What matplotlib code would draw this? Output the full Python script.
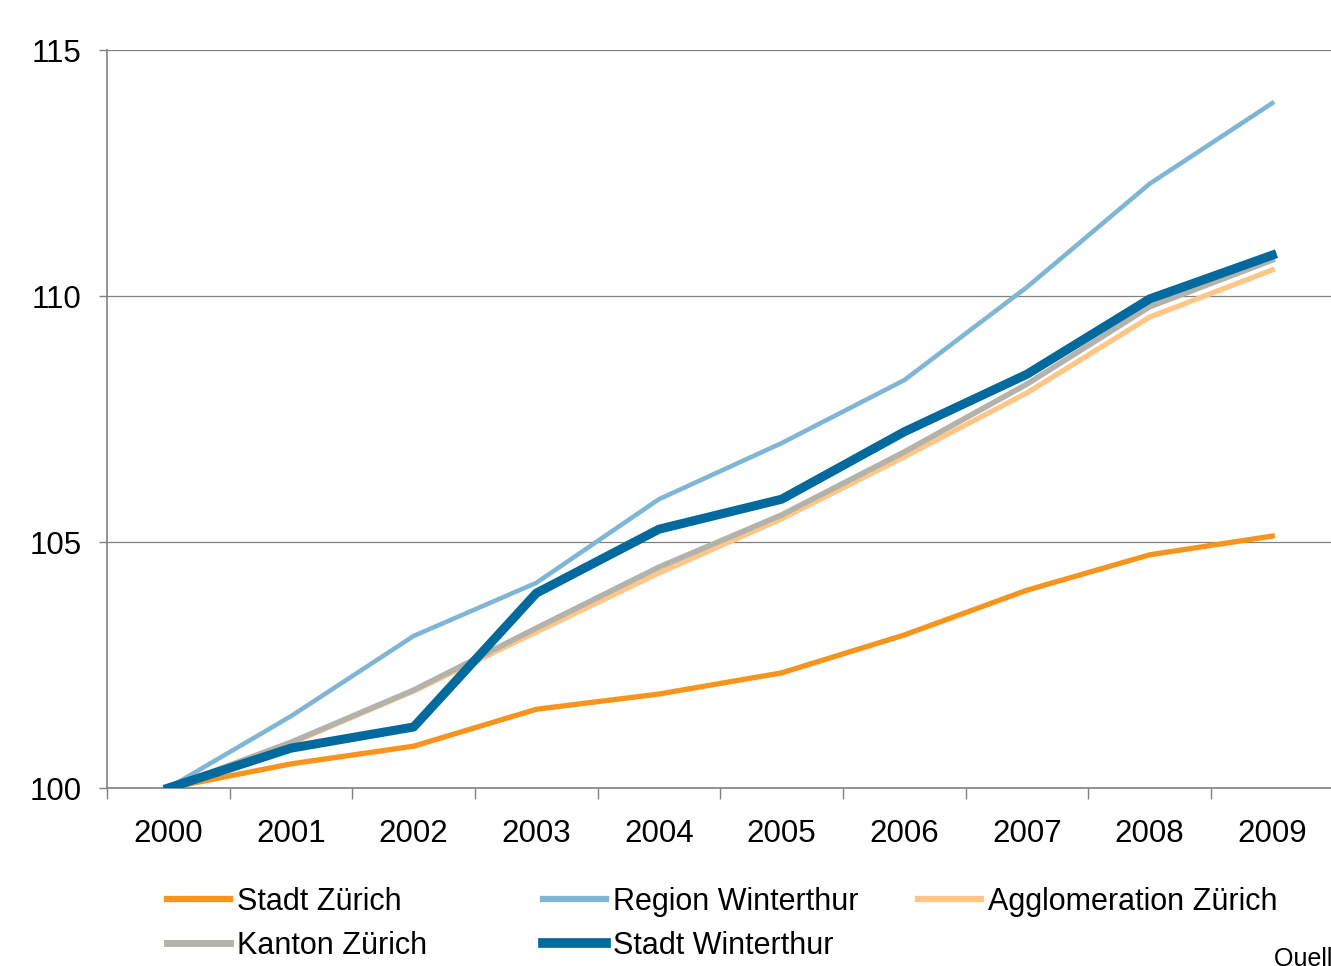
import matplotlib
matplotlib.use("Agg")
import matplotlib.pyplot as plt
from matplotlib.lines import Line2D

years = ["2000", "2001", "2002", "2003", "2004", "2005", "2006", "2007", "2008", "2009"]
stadt_zuerich = [100.0, 100.49, 100.85, 101.6, 101.91, 102.34, 103.11, 104.02, 104.74, 105.12]
region_winterthur = [100.0, 101.46, 103.09, 104.17, 105.87, 107.01, 108.29, 110.18, 112.28, 113.92]
agglo_zuerich = [100.0, 100.91, 101.97, 103.17, 104.37, 105.47, 106.73, 108.03, 109.57, 110.53]
kanton_zuerich = [100.0, 100.93, 101.99, 103.25, 104.49, 105.55, 106.83, 108.21, 109.78, 110.73]
stadt_winterthur = [100.0, 100.81, 101.24, 103.96, 105.26, 105.87, 107.24, 108.41, 109.94, 110.83]
yticks = [100, 105, 110, 115]

plt.rcParams['font.family'] = ['Liberation Sans', 'DejaVu Sans']

W, H = 1331, 966
fig = plt.figure(figsize=(W / 100, H / 100), dpi=100)
ax = fig.add_axes([107 / W, 1 - 788 / H, (1333.6 - 107) / W, (788 - 50) / H])

x = list(range(len(years)))
c_orange = "#F7941E"
c_lblue = "#7FB6D5"
c_lorange = "#FFC687"
c_gray = "#B3B2AB"
c_dblue = "#00699E"

FS = 22.5
LFS = 22

ax.plot(x, stadt_zuerich, color=c_orange, lw=3.8, zorder=3, label="Stadt Zürich")
ax.plot(x, agglo_zuerich, color=c_lorange, lw=3.8, zorder=3, label="Agglomeration Zürich")
ax.plot(x, kanton_zuerich, color=c_gray, lw=4.0, zorder=3, label="Kanton Zürich")
ax.plot(x, region_winterthur, color=c_lblue, lw=3.3, zorder=3, label="Region Winterthur")
ax.plot(x, stadt_winterthur, color=c_dblue, lw=6.5, zorder=4, label="Stadt Winterthur")

ax.set_xlim(-0.5, len(years) - 0.5)
ax.set_ylim(100, 115)
ax.set_yticks(yticks)
ax.set_yticklabels([str(v) for v in yticks])
ax.set_xticks(x)
ax.set_xticklabels(years)
ax.set_xticks([i - 0.5 for i in range(len(years) + 1)], minor=True)
ax.tick_params(axis="x", which="major", length=0, pad=22, labelsize=FS)
ax.tick_params(axis="x", which="minor", length=8, width=1, color="#808080", direction="out")
ax.tick_params(axis="y", length=6, width=1, color="#808080", pad=12.5, labelsize=FS)
for s in ["top", "right"]:
    ax.spines[s].set_visible(False)
for s in ["left", "bottom"]:
    ax.spines[s].set_color("#808080")
    ax.spines[s].set_linewidth(1.2)
ax.grid(axis="y", color="#808080", lw=0.9)
ax.set_axisbelow(True)

def col_legend(entries, xpix):
    handles = [Line2D([], [], color=c, lw=lw) for _, c, lw in entries]
    labels = [l for l, _, _ in entries]
    leg = fig.legend(handles, labels, loc="upper left",
                     bbox_to_anchor=(xpix / W, 1 - 887 / H), frameon=False,
                     fontsize=LFS, handlelength=2.05, handletextpad=0.23,
                     labelspacing=0.45, borderpad=0, borderaxespad=0)
    return leg

col_legend([("Stadt Zürich", c_orange, 4.5), ("Kanton Zürich", c_gray, 5)], 167)
col_legend([("Region Winterthur", c_lblue, 4.5), ("Stadt Winterthur", c_dblue, 7)], 543)
col_legend([("Agglomeration Zürich", c_lorange, 4.5)], 918)

fig.text(1274 / W, 1 - 966 / H, "Quelle: Statistisches Amt", fontsize=18, ha="left", va="baseline")

fig.savefig("out.png", dpi=100)
